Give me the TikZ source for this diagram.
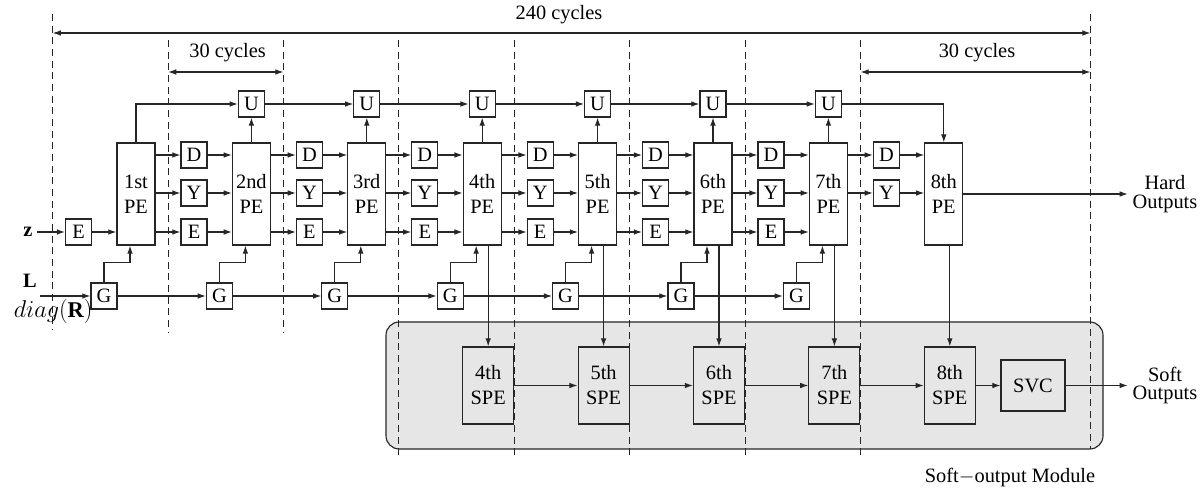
\documentclass[tikz,border=0pt]{standalone}
\usepackage{fontspec}
\setmainfont{Liberation Serif}
\usetikzlibrary{arrows.meta,positioning}
\definecolor{WireInk}{HTML}{262626}
\definecolor{ModuleGray}{HTML}{E6E6E6}

\begin{document}
\begin{tikzpicture}[
	font=\fontsize{14.5}{17.8}\selectfont,
	>={Latex[length=5.8pt,width=4pt]},
	pe/.style={draw=WireInk, line width=0.8pt, align=center, minimum width=0.95cm, minimum height=2.55cm, inner sep=0pt},
	reg/.style={draw=WireInk, fill=white, line width=0.8pt, minimum size=0.65cm, inner sep=0pt},
	spe/.style={draw=WireInk, line width=0.8pt, align=center, minimum width=1.275cm, minimum height=1.925cm, inner sep=0pt},
	module/.style={draw=WireInk, fill=ModuleGray, rounded corners=3.3mm, line width=0.8pt},
	outlabel/.style={align=center, font=\fontsize{14.5}{13.5}\selectfont},
	cyclemark/.style={draw=WireInk, line width=0.7pt, dash pattern=on 5pt off 3.3pt},
	span/.style={<->, draw=WireInk, line width=0.8pt},
	link/.style={->, draw=WireInk, line width=0.8pt}
]
\useasboundingbox (0,0) rectangle (30.1,12.175);

% soft-output module (background)
\node[module, minimum width=17.925cm, minimum height=3.175cm] (module) at (18.6125,2.5375) {};
\node (modlabel) at (25.25,0.25) {Soft$-$output Module};

% cycle boundaries
\draw[cyclemark] (1.3175,11.825) -- (1.3175,3.925);
\draw[cyclemark] (4.2025,11.175) -- (4.2025,3.85);
\draw[cyclemark] (7.0875,11.175) -- (7.0875,3.85);
\draw[cyclemark] (9.9725,11.175) -- (9.9725,0.8);
\draw[cyclemark] (12.8575,11.175) -- (12.8575,0.8);
\draw[cyclemark] (15.7425,11.175) -- (15.7425,0.8);
\draw[cyclemark] (18.6275,11.175) -- (18.6275,0.8);
\draw[cyclemark] (21.5125,11.175) -- (21.5125,0.8);
\draw[cyclemark] (27.2625,11.825) -- (27.2625,0.95);

\coordinate (all-l) at (1.3175,11.35);
\coordinate (all-r) at (27.2625,11.35);
\coordinate (stage-l) at (4.2025,10.375);
\coordinate (stage-r) at (7.0875,10.375);
\coordinate (last-l) at (21.5125,10.375);
\coordinate (last-r) at (27.2625,10.375);
\draw[span] (all-l) -- (all-r);
\draw[span] (stage-l) -- (stage-r);
\draw[span] (last-l) -- (last-r);
\node (total) at (13.975,11.8) {240 cycles};
\node (first30) at (5.69,10.85) {30 cycles};
\node (last30) at (24.425,10.85) {30 cycles};

% inputs
\node (z) at (0.7,6.375) {$\mathbf{z}$};
\node[reg] (e0) at (1.9625,6.375) {E};
\node (lin) at (0.75,5.15) {$\mathbf{L}$};
\node[font=\fontsize{16}{18}\selectfont] (rin) at (1.33,4.4) {$diag(\mathbf{R})$};
\coordinate (gin) at (1.0,4.775);

% processing elements
\node[pe] (pe1) at (3.40,7.325) {1st\\PE};
\node[pe] (pe2) at (6.285,7.325) {2nd\\PE};
\node[pe] (pe3) at (9.17,7.325) {3rd\\PE};
\node[pe] (pe4) at (12.055,7.325) {4th\\PE};
\node[pe] (pe5) at (14.94,7.325) {5th\\PE};
\node[pe] (pe6) at (17.825,7.325) {6th\\PE};
\node[pe] (pe7) at (20.71,7.325) {7th\\PE};
\node[pe] (pe8) at (23.595,7.325) {8th\\PE};

\node[reg] (u2) at (6.285,9.575) {U};
\node[reg] (u3) at (9.17,9.575) {U};
\node[reg] (u4) at (12.055,9.575) {U};
\node[reg] (u5) at (14.94,9.575) {U};
\node[reg] (u6) at (17.825,9.575) {U};
\node[reg] (u7) at (20.71,9.575) {U};

\node[reg] (d1) at (4.85,8.30) {D};
\node[reg] (y1) at (4.85,7.35) {Y};
\node[reg] (e1) at (4.85,6.375) {E};
\node[reg] (d2) at (7.735,8.30) {D};
\node[reg] (y2) at (7.735,7.35) {Y};
\node[reg] (e2) at (7.735,6.375) {E};
\node[reg] (d3) at (10.62,8.30) {D};
\node[reg] (y3) at (10.62,7.35) {Y};
\node[reg] (e3) at (10.62,6.375) {E};
\node[reg] (d4) at (13.505,8.30) {D};
\node[reg] (y4) at (13.505,7.35) {Y};
\node[reg] (e4) at (13.505,6.375) {E};
\node[reg] (d5) at (16.39,8.30) {D};
\node[reg] (y5) at (16.39,7.35) {Y};
\node[reg] (e5) at (16.39,6.375) {E};
\node[reg] (d6) at (19.275,8.30) {D};
\node[reg] (y6) at (19.275,7.35) {Y};
\node[reg] (e6) at (19.275,6.375) {E};
\node[reg] (d7) at (22.16,8.30) {D};
\node[reg] (y7) at (22.16,7.35) {Y};

\node[reg] (g1) at (2.60,4.775) {G};
\node[reg] (g2) at (5.485,4.775) {G};
\node[reg] (g3) at (8.37,4.775) {G};
\node[reg] (g4) at (11.255,4.775) {G};
\node[reg] (g5) at (14.14,4.775) {G};
\node[reg] (g6) at (17.025,4.775) {G};
\node[reg] (g7) at (19.91,4.775) {G};

% soft-output path
\node[spe] (spe4) at (12.205,2.5375) {4th\\SPE};
\node[spe] (spe5) at (15.09,2.5375) {5th\\SPE};
\node[spe] (spe6) at (17.975,2.5375) {6th\\SPE};
\node[spe] (spe7) at (20.86,2.5375) {7th\\SPE};
\node[spe] (spe8) at (23.745,2.5375) {8th\\SPE};
\node[draw=WireInk, line width=0.8pt, minimum width=1.6cm, minimum height=1.275cm] (svc) at (25.825,2.5375) {SVC};

\node[outlabel] (hard) at (29.125,7.325) {Hard\\Outputs};
\node[outlabel] (soft) at (29.125,2.5375) {Soft\\Outputs};

% wiring
\draw[link] (z) -- (e0);
\draw[link] (e0) -- (e0 -| pe1.west);
\draw[link] (gin) -- (g1);
\draw[link] (g1) -- (g2);
\draw[link] (g2) -- (g3);
\draw[link] (g3) -- (g4);
\draw[link] (g4) -- (g5);
\draw[link] (g5) -- (g6);
\draw[link] (g6) -- (g7);
\draw[link] (g1.north) -- ++(0,0.5) -| ([xshift=-1.5mm]pe1.south);
\draw[link] (g2.north) -- ++(0,0.5) -| ([xshift=-1.5mm]pe2.south);
\draw[link] (g3.north) -- ++(0,0.5) -| ([xshift=-1.5mm]pe3.south);
\draw[link] (g4.north) -- ++(0,0.5) -| ([xshift=-1.5mm]pe4.south);
\draw[link] (g5.north) -- ++(0,0.5) -| ([xshift=-1.5mm]pe5.south);
\draw[link] (g6.north) -- ++(0,0.5) -| ([xshift=-1.5mm]pe6.south);
\draw[link] (g7.north) -- ++(0,0.5) -| ([xshift=-1.5mm]pe7.south);

\draw[link] (pe1.north) |- (u2);
\draw[link] (u2) -- (u3);
\draw[link] (u3) -- (u4);
\draw[link] (u4) -- (u5);
\draw[link] (u5) -- (u6);
\draw[link] (u6) -- (u7);
\draw[link] (u7) -| (pe8.north);
\draw[link] (pe2) -- (u2);
\draw[link] (pe3) -- (u3);
\draw[link] (pe4) -- (u4);
\draw[link] (pe5) -- (u5);
\draw[link] (pe6) -- (u6);
\draw[link] (pe7) -- (u7);

\draw[link] (pe1.east |- d1) -- (d1);
\draw[link] (pe1.east |- y1) -- (y1);
\draw[link] (pe1.east |- e1) -- (e1);
\draw[link] (d1) -- (d1 -| pe2.west);
\draw[link] (y1) -- (y1 -| pe2.west);
\draw[link] (e1) -- (e1 -| pe2.west);
\draw[link] (pe2.east |- d2) -- (d2);
\draw[link] (pe2.east |- y2) -- (y2);
\draw[link] (pe2.east |- e2) -- (e2);
\draw[link] (d2) -- (d2 -| pe3.west);
\draw[link] (y2) -- (y2 -| pe3.west);
\draw[link] (e2) -- (e2 -| pe3.west);
\draw[link] (pe3.east |- d3) -- (d3);
\draw[link] (pe3.east |- y3) -- (y3);
\draw[link] (pe3.east |- e3) -- (e3);
\draw[link] (d3) -- (d3 -| pe4.west);
\draw[link] (y3) -- (y3 -| pe4.west);
\draw[link] (e3) -- (e3 -| pe4.west);
\draw[link] (pe4.east |- d4) -- (d4);
\draw[link] (pe4.east |- y4) -- (y4);
\draw[link] (pe4.east |- e4) -- (e4);
\draw[link] (d4) -- (d4 -| pe5.west);
\draw[link] (y4) -- (y4 -| pe5.west);
\draw[link] (e4) -- (e4 -| pe5.west);
\draw[link] (pe5.east |- d5) -- (d5);
\draw[link] (pe5.east |- y5) -- (y5);
\draw[link] (pe5.east |- e5) -- (e5);
\draw[link] (d5) -- (d5 -| pe6.west);
\draw[link] (y5) -- (y5 -| pe6.west);
\draw[link] (e5) -- (e5 -| pe6.west);
\draw[link] (pe6.east |- d6) -- (d6);
\draw[link] (pe6.east |- y6) -- (y6);
\draw[link] (pe6.east |- e6) -- (e6);
\draw[link] (d6) -- (d6 -| pe7.west);
\draw[link] (y6) -- (y6 -| pe7.west);
\draw[link] (e6) -- (e6 -| pe7.west);
\draw[link] (pe7.east |- d7) -- (d7);
\draw[link] (pe7.east |- y7) -- (y7);
\draw[link] (d7) -- (d7 -| pe8.west);
\draw[link] (y7) -- (y7 -| pe8.west);
\draw[link] (pe8) -- (hard);

\draw[link] (pe4.south -| spe4.north) -- (spe4.north);
\draw[link] (pe5.south -| spe5.north) -- (spe5.north);
\draw[link] (pe6.south -| spe6.north) -- (spe6.north);
\draw[link] (pe7.south -| spe7.north) -- (spe7.north);
\draw[link] (pe8.south -| spe8.north) -- (spe8.north);
\draw[link] (spe4) -- (spe5);
\draw[link] (spe5) -- (spe6);
\draw[link] (spe6) -- (spe7);
\draw[link] (spe7) -- (spe8);
\draw[link] (spe8) -- (svc);
\draw[link] (svc) -- (soft);
\end{tikzpicture}
\end{document}
